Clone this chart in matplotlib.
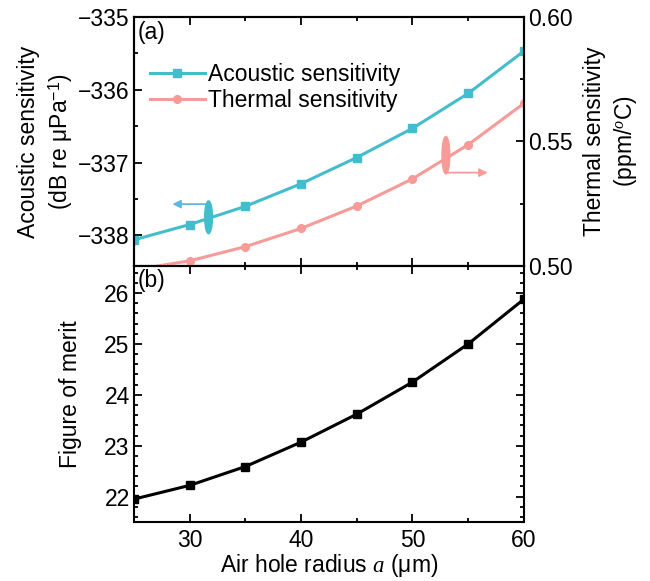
import numpy as np
import matplotlib.pyplot as plt
from matplotlib.patches import Ellipse
from matplotlib.ticker import MultipleLocator

plt.rcParams['font.family'] = ['Liberation Sans', 'DejaVu Sans']
plt.rcParams['mathtext.fontset'] = 'custom'
plt.rcParams['mathtext.rm'] = 'Liberation Sans'
plt.rcParams['mathtext.it'] = 'Liberation Serif:italic'
plt.rcParams['font.size'] = 16.5

## data
radius = [25, 30, 35, 40, 45, 50, 55, 60]
acoustic = [-338.06, -337.85, -337.60, -337.29, -336.93, -336.53, -336.05, -335.47]
thermal = [0.4985, 0.5021, 0.5078, 0.5151, 0.5241, 0.5350, 0.5487, 0.5653]
fom = [21.95, 22.22, 22.59, 23.07, 23.62, 24.25, 25.00, 25.88]

c_ac = '#45bccb'
c_th = '#f89a98'

fig = plt.figure(figsize=(6.5, 5.81), dpi=100)
ax1 = fig.add_axes([0.206, 0.542, 0.6, 0.429])
ax2 = fig.add_axes([0.206, 0.1015, 0.6, 0.4405])
ax1r = ax1.twinx()

ax1.plot(radius, acoustic, color=c_ac, lw=2.2, marker='s', ms=5.5, label='Acoustic sensitivity')
ax1r.plot(radius, thermal, color=c_th, lw=2.2, marker='o', ms=5.5, label='Thermal sensitivity')
ax2.plot(radius, fom, color='black', lw=2.2, marker='s', ms=5.5)

for a in (ax1, ax1r, ax2):
    a.set_xlim(25, 60)
    for s in a.spines.values():
        s.set_linewidth(1.5)
    a.tick_params(which='both', direction='in', width=1.3, pad=3)
    a.tick_params(which='major', length=6)
    a.tick_params(which='minor', length=3)

ax1.set_ylim(-338.42, -335)
ax1.yaxis.set_major_locator(MultipleLocator(1))
ax1.yaxis.set_minor_locator(MultipleLocator(0.5))
ax1.xaxis.set_major_locator(MultipleLocator(10))
ax1.xaxis.set_minor_locator(MultipleLocator(5))
ax1.tick_params(axis='x', which='both', top=True, bottom=True, labelbottom=False)
ax1.set_ylabel('Acoustic sensitivity\n(dB re μPa$^{-1}$)', linespacing=1.3)
ax1.yaxis.set_label_coords(-0.15, 0.5)

ax1r.set_ylim(0.50, 0.60)
ax1r.yaxis.set_major_locator(MultipleLocator(0.05))
ax1r.yaxis.set_minor_locator(MultipleLocator(0.025))
ax1r.yaxis.set_major_formatter(lambda v, p: f'{v:.2f}')
ax1r.set_ylabel('Thermal sensitivity\n(ppm/$^o$C)', linespacing=1.3)
ax1r.yaxis.set_label_coords(1.152, 0.5)

h1, l1 = ax1.get_legend_handles_labels()
h2, l2 = ax1r.get_legend_handles_labels()
ax1.legend(h1 + h2, l1 + l2, loc='upper left', bbox_to_anchor=(0.0, 0.88),
           frameon=False, handlelength=2.4, borderaxespad=0.3, labelspacing=0.15,
           handletextpad=0.15)
ax1.text(0.01, 0.985, '(a)', transform=ax1.transAxes, va='top', ha='left')

# axis indicators: ellipse + arrow
ax1.add_patch(Ellipse((31.7, -337.75), 0.7, 0.45, color=c_ac, zorder=5))
ax1.annotate('', xy=(28.2, -337.57), xytext=(31.7, -337.57),
             arrowprops=dict(arrowstyle='-|>', color='#5cb8e0', lw=1.3, mutation_scale=12))
ax1r.add_patch(Ellipse((53.0, 0.5445), 0.7, 0.015, color=c_th, zorder=5))
ax1r.annotate('', xy=(57.0, 0.5375), xytext=(53.0, 0.5375),
              arrowprops=dict(arrowstyle='-|>', color=c_th, lw=1.3, mutation_scale=12))

ax2.set_ylim(21.5, 26.53)
ax2.yaxis.set_major_locator(MultipleLocator(1))
ax2.yaxis.set_minor_locator(MultipleLocator(0.2))
ax2.xaxis.set_major_locator(MultipleLocator(10))
ax2.xaxis.set_minor_locator(MultipleLocator(5))
ax2.set_xticks([30, 40, 50, 60])
ax2.tick_params(axis='y', which='both', left=True, right=True)
ax2.tick_params(axis='x', which='both', top=True, bottom=True, pad=5)
ax2.set_ylabel('Figure of merit')
ax2.yaxis.set_label_coords(-0.132, 0.5)
ax2.set_xlabel('Air hole radius $a$ (μm)', labelpad=0)
ax2.text(0.01, 0.99, '(b)', transform=ax2.transAxes, va='top', ha='left')

fig.savefig('out.png', dpi=100)
